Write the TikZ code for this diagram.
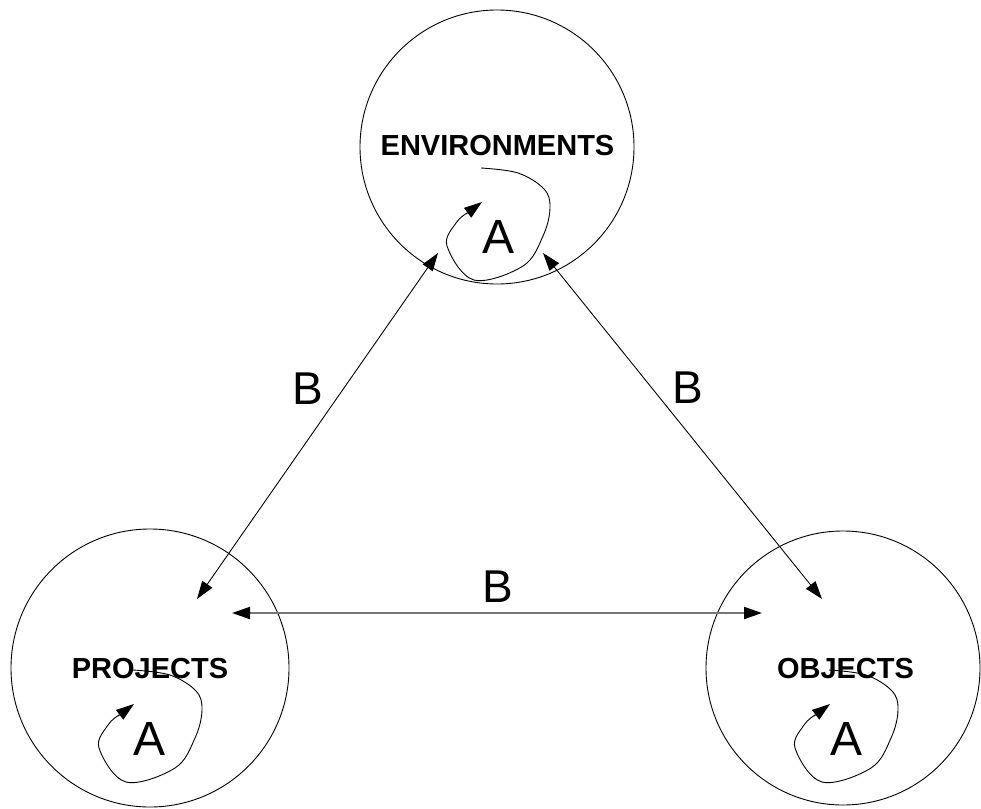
\documentclass[tikz,border=0pt]{standalone}
\usepackage{fontspec}
\setmainfont{Liberation Sans}
\usetikzlibrary{arrows.meta}
\definecolor{hline}{HTML}{777777}
\tikzset{
  ring/.style={draw, circle, line width=0.9pt, inner sep=0pt},
  title/.style={font=\fontsize{29}{29}\selectfont\bfseries, inner sep=0pt, anchor=base},
  letterA/.style={font=\fontsize{48}{48}\selectfont, inner sep=0pt, anchor=base},
  letterB/.style={font=\fontsize{46}{46}\selectfont, inner sep=0pt, anchor=base},
  tip/.tip={Triangle[length=18pt,width=12pt,color=black]},
  link/.style={line width=0.9pt, tip-tip},
  loopline/.style={line width=0.9pt},
}
\newcommand\selfloop[1]{%
  \begin{scope}[shift={(#1.base)}]
    \draw[loopline] plot[smooth, tension=0.6] coordinates {(-17,-85) (20,-80) (46,-64) (52,-45) (45,-17) (25,13) (-24,27) (-51,-7) (-42,-30) (-31,-40)};
    \coordinate (#1s) at (-32,-39);
    \coordinate (#1e) at (-16,-51);
    \draw[loopline, -tip] (#1s) -- (#1e);
  \end{scope}}
\begin{document}
\begin{tikzpicture}[x=1pt,y=-1pt]
\useasboundingbox (0,0) rectangle (981,808);
% circles
\node[ring, minimum size=274pt] (env) at (497,147) {};
\node[ring, minimum size=278pt] (proj) at (150,668) {};
\node[ring, minimum size=274pt] (obj) at (843,668) {};
% titles
\node[title] (envt) at (497.5,155) {ENVIRONMENTS};
\node[title] (projt) at (150,678) {PROJECTS};
\node[title] (objt) at (845.5,678) {OBJECTS};
% A letters
\node[letterA] (aE) at (498,253) {A};
\node[letterA] (aP) at (150,755) {A};
\node[letterA] (aO) at (846,755) {A};
% self loops
\selfloop{aE}
\selfloop{aP}
\selfloop{aO}
% connector end points
\coordinate (e1) at (438,253);
\coordinate (p1) at (197,599);
\coordinate (e2) at (543,253);
\coordinate (o1) at (822,599);
\coordinate (p2) at (232,613);
\coordinate (o2) at (762,613);
\draw[link] (e1) -- (p1);
\draw[link] (e2) -- (o1);
\draw[link, draw=hline, line width=2pt] (p2) -- (o2);
% B labels
\node[letterB] (bL) at (307.7,404) {B};
\node[letterB] (bR) at (688,403) {B};
\node[letterB] (bB) at (498,602) {B};
\end{tikzpicture}
\end{document}
